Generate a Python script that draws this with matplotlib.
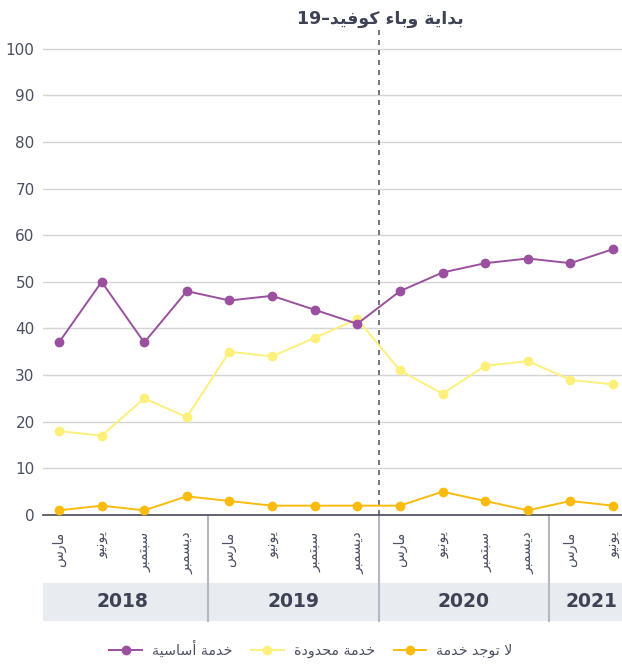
import re

import matplotlib
matplotlib.use('Agg')
import matplotlib.pyplot as plt
from matplotlib.patches import Rectangle

plt.rcParams['font.family'] = ['DejaVu Sans']

# --- data -------------------------------------------------------------
months = ['مارس', 'يونيو', 'سبتمبر', 'ديسمبر'] * 3 + ['مارس', 'يونيو']
years = ['2018', '2019', '2020', '2021']
year_sizes = [4, 4, 4, 2]

basic = [37, 50, 37, 48, 46, 47, 44, 41, 48, 52, 54, 55, 54, 57]
limited = [18, 17, 25, 21, 35, 34, 38, 42, 31, 26, 32, 33, 29, 28]
no_service = [1, 2, 1, 4, 3, 2, 2, 2, 2, 5, 3, 1, 3, 2]

series_names = ['خدمة أساسية', 'خدمة محدودة', 'لا توجد خدمة']
covid_label = 'بداية وباء كوفيد–19'
covid_at = 7.5

# --- tiny arabic shaper (matplotlib has no complex text layout) --------
_BASE = {
    'ء': 0xFE80, 'أ': 0xFE83, 'ا': 0xFE8D, 'ب': 0xFE8F, 'ة': 0xFE93,
    'ت': 0xFE95, 'ج': 0xFE9D, 'ح': 0xFEA1, 'خ': 0xFEA5, 'د': 0xFEA9,
    'ر': 0xFEAD, 'س': 0xFEB1, 'ف': 0xFED1, 'ك': 0xFED9, 'ل': 0xFEDD,
    'م': 0xFEE1, 'ن': 0xFEE5, 'و': 0xFEED, 'ي': 0xFEF1,
}
_DUAL = set('بتجحخسفكلمني')


def _shape(text):
    toks = []
    i = 0
    while i < len(text):
        if text[i] == 'ل' and i + 1 < len(text) and text[i + 1] == 'ا':
            toks.append('لا')
            i += 2
        else:
            toks.append(text[i])
            i += 1
    out = []
    for k, t in enumerate(toks):
        prev = toks[k - 1] if k > 0 else None
        nxt = toks[k + 1] if k + 1 < len(toks) else None
        jp = prev in _DUAL
        if t == 'لا':
            out.append(chr(0xFEFC if jp else 0xFEFB))
            continue
        if t not in _BASE:
            out.append(t)
            continue
        if t == 'ء':
            out.append(chr(_BASE[t]))
            continue
        jn = t in _DUAL and nxt is not None and (nxt in _BASE or nxt == 'لا') and nxt != 'ء'
        off = 3 if (jp and jn) else 2 if jn else 1 if jp else 0
        out.append(chr(_BASE[t] + off))
    s = ''.join(out)[::-1]
    return re.sub(r'[0-9]+', lambda m: m.group(0)[::-1], s)


# --- plot -------------------------------------------------------------
TXT = '#4a4f63'
c_basic = '#9b4f9f'
c_limited = '#fdf07a'
c_none = '#f9bb0d'

fig = plt.figure(figsize=(6.22, 6.64), dpi=100)
ax = fig.add_axes([43 / 622, 1 - 515 / 664, 1 - 43 / 622, 485 / 664])

x = list(range(len(months)))
kw = dict(lw=1.4, marker='o', markersize=6)
l1, = ax.plot(x, basic, color=c_basic, zorder=5, **kw)
l2, = ax.plot(x, limited, color=c_limited, zorder=4, **kw)
l3, = ax.plot(x, no_service, color=c_none, zorder=3, **kw)

ax.set_xlim(-0.375, 13.21)
ax.set_ylim(0, 104)
ax.set_yticks(range(0, 101, 10))
ax.grid(True, axis='y', color='#d4d4d4', lw=1)
ax.set_axisbelow(True)
for sp in ('top', 'right', 'left'):
    ax.spines[sp].set_visible(False)
ax.spines['bottom'].set_color('#4a4a5a')
ax.spines['bottom'].set_linewidth(1.2)
ax.tick_params(axis='y', length=0, labelsize=11, labelcolor=TXT, pad=6)
ax.set_xticks(x)
ax.set_xticklabels([_shape(m) for m in months], rotation=90, va='top', ha='center')
ax.tick_params(axis='x', length=0, labelsize=10, labelcolor=TXT, pad=12)

ax.axvline(covid_at, color='#5a5c6a', lw=1.2, ls=(0, (3, 3)), zorder=2)
ax.text(covid_at + 0.05, 1 + 11 / 485, _shape(covid_label), transform=ax.get_xaxis_transform(),
        ha='center', va='center', fontsize=12.5, fontweight='bold', color='#3d4255')

# year band
tr = ax.get_xaxis_transform()
band_top, band_bot = -0.140, -0.2186
ax.add_patch(Rectangle((-0.375, band_bot), 13.21 + 0.375, band_top - band_bot,
                       transform=tr, facecolor='#e8ebf0', edgecolor='none',
                       clip_on=False, zorder=0))
start = 0
for yr, n in zip(years, year_sizes):
    ax.text(start + (n - 1) / 2, (band_top + band_bot) / 2, yr, transform=tr,
            ha='center', va='center', fontsize=13.5, fontweight='bold', color='#3d4255')
    if start > 0:
        ax.plot([start - 0.5, start - 0.5], [0, band_bot], transform=tr,
                color='#b3b7c6', lw=1.5, clip_on=False, zorder=1)
    start += n

fig.legend([l1, l2, l3], [_shape(s) for s in series_names], loc='center',
           bbox_to_anchor=(0.5, 1 - 649 / 664), ncol=3, frameon=False,
           fontsize=10.3, labelcolor=TXT, handlelength=2.3, columnspacing=1.3,
           handletextpad=0.7)

fig.savefig('out.png', dpi=100)
